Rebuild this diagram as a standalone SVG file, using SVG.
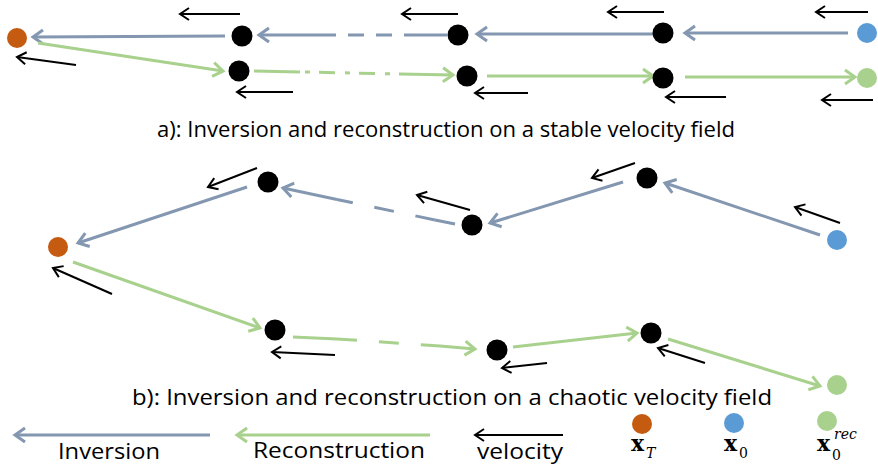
<svg xmlns="http://www.w3.org/2000/svg" width="878" height="466" viewBox="0 0 878 466">
<style>
.inv{stroke:#8497B0;stroke-width:3;fill:none;}
.rec{stroke:#A9D18E;stroke-width:3;fill:none;}
.dash{stroke-dasharray:20 22;}
.vel{stroke:#000;stroke-width:2;fill:none;}
.ai{marker-end:url(#mInv);}
.ar{marker-end:url(#mRec);}
.av{marker-end:url(#mVel);}
.blk{fill:#000;}
.org{fill:#C55A11;}
.blu{fill:#5B9BD5;}
.grn{fill:#A9D18E;}
.cap{font-family:"Open Sans",Lato,"Liberation Sans",sans-serif;font-size:21px;fill:#000;}
.math{font-family:"DejaVu Serif","Liberation Serif",serif;font-weight:bold;font-size:22px;fill:#000;}
.sub{font-family:"DejaVu Serif","Liberation Serif",serif;font-size:14px;fill:#000;}
.it{font-style:italic;}
</style>
<defs>
<marker id="mInv" markerUnits="userSpaceOnUse" viewBox="-14 -10 18 20" refX="0" refY="0" markerWidth="18" markerHeight="20" orient="auto">
<path d="M-10,-7 L0,0 L-10,7" fill="none" stroke="#8497B0" stroke-width="3"/>
</marker>
<marker id="mRec" markerUnits="userSpaceOnUse" viewBox="-14 -10 18 20" refX="0" refY="0" markerWidth="18" markerHeight="20" orient="auto">
<path d="M-10,-7 L0,0 L-10,7" fill="none" stroke="#A9D18E" stroke-width="3"/>
</marker>
<marker id="mVel" markerUnits="userSpaceOnUse" viewBox="-12 -9 15 18" refX="0" refY="0" markerWidth="15" markerHeight="18" orient="auto">
<path d="M-9,-6 L0,0 L-9,6" fill="none" stroke="#000" stroke-width="2"/>
</marker>
</defs>
<rect width="878" height="466" fill="#fff"/>

<g id="connectors">
<!-- a: inversion -->
<line class="inv ai" x1="225" y1="36" x2="33" y2="37"/>
<line class="inv" x1="447" y1="35" x2="420" y2="35"/>
<line class="inv" x1="420" y1="35" x2="320" y2="35" style="stroke-dasharray:16 12"/>
<line class="inv ai" x1="320" y1="35" x2="259" y2="35"/>
<line class="inv ai" x1="653" y1="34" x2="477" y2="34"/>
<line class="inv ai" x1="848" y1="33" x2="685" y2="33"/>
<!-- a: reconstruction -->
<line class="rec ar" x1="38" y1="43" x2="223" y2="71"/>
<line class="rec" x1="254" y1="71" x2="300" y2="72"/>
<line class="rec" x1="305" y1="72" x2="400" y2="74" style="stroke-dasharray:5 9 16 10"/>
<line class="rec ar" x1="400" y1="74" x2="453" y2="75"/>
<line class="rec ar" x1="487" y1="76" x2="653" y2="76"/>
<line class="rec ar" x1="685" y1="77" x2="855" y2="77"/>
<!-- b: inversion -->
<line class="inv ai" x1="247" y1="187" x2="78" y2="243"/>
<line class="inv" x1="455" y1="224" x2="435" y2="220"/>
<line class="inv dash" x1="435" y1="220" x2="337" y2="199.5"/>
<line class="inv ai" x1="337" y1="199.5" x2="283" y2="188"/>
<line class="inv ai" x1="623" y1="182" x2="490" y2="223"/>
<line class="inv ai" x1="820" y1="235" x2="665" y2="183"/>
<!-- b: reconstruction -->
<line class="rec ar" x1="73" y1="262" x2="260" y2="328"/>
<line class="rec" x1="293" y1="337" x2="337" y2="339"/>
<line class="rec dash" x1="337" y1="339" x2="440" y2="346"/>
<line class="rec ar" x1="440" y1="346" x2="475" y2="349"/>
<line class="rec ar" x1="513" y1="347" x2="637" y2="333"/>
<line class="rec ar" x1="668" y1="339" x2="820" y2="386"/>
</g>

<g id="velocity">
<line class="vel av" x1="240" y1="14" x2="180" y2="14"/>
<line class="vel av" x1="76" y1="65" x2="17" y2="57"/>
<line class="vel av" x1="293" y1="92" x2="237" y2="92"/>
<line class="vel av" x1="458" y1="14" x2="402" y2="14"/>
<line class="vel av" x1="528" y1="93" x2="475" y2="93"/>
<line class="vel av" x1="664" y1="12" x2="608" y2="12"/>
<line class="vel av" x1="726" y1="97" x2="666" y2="97"/>
<line class="vel av" x1="868" y1="12" x2="816" y2="12"/>
<line class="vel av" x1="873" y1="100" x2="822" y2="100"/>
<line class="vel av" x1="257" y1="168" x2="208" y2="187"/>
<line class="vel av" x1="470" y1="210" x2="417" y2="195"/>
<line class="vel av" x1="635" y1="163" x2="592" y2="178"/>
<line class="vel av" x1="840" y1="223" x2="795" y2="207"/>
<line class="vel av" x1="112" y1="294" x2="53" y2="268"/>
<line class="vel av" x1="335" y1="355" x2="272" y2="352"/>
<line class="vel av" x1="547" y1="363" x2="502" y2="368"/>
<line class="vel av" x1="705" y1="363" x2="658" y2="348"/>
</g>

<g id="a_xT"><circle class="org" cx="17" cy="38" r="10"/></g>
<g id="a_inv1"><circle class="blk" cx="242" cy="36" r="10.5"/></g>
<g id="a_inv2"><circle class="blk" cx="458" cy="35" r="10.5"/></g>
<g id="a_inv3"><circle class="blk" cx="663" cy="33" r="10.5"/></g>
<g id="a_x0"><circle class="blu" cx="867" cy="33" r="10"/></g>
<g id="a_rec1"><circle class="blk" cx="239" cy="71" r="10.5"/></g>
<g id="a_rec2"><circle class="blk" cx="467" cy="76" r="10.5"/></g>
<g id="a_rec3"><circle class="blk" cx="663" cy="78" r="10.5"/></g>
<g id="a_xrec"><circle class="grn" cx="867" cy="78" r="10"/></g>

<g id="b_xT"><circle class="org" cx="58" cy="247" r="10"/></g>
<g id="b_inv1"><circle class="blk" cx="268" cy="182" r="10.5"/></g>
<g id="b_inv2"><circle class="blk" cx="472" cy="225" r="10.5"/></g>
<g id="b_inv3"><circle class="blk" cx="647" cy="178" r="10.5"/></g>
<g id="b_x0"><circle class="blu" cx="837" cy="240" r="10"/></g>
<g id="b_rec1"><circle class="blk" cx="275" cy="330" r="10.5"/></g>
<g id="b_rec2"><circle class="blk" cx="497" cy="350" r="10.5"/></g>
<g id="b_rec3"><circle class="blk" cx="651" cy="333" r="10.5"/></g>
<g id="b_xrec"><circle class="grn" cx="837" cy="385" r="10"/></g>

<g id="captions">
<text class="cap" x="157" y="137" textLength="578" lengthAdjust="spacingAndGlyphs">a): Inversion and reconstruction on a stable velocity field</text>
<text class="cap" x="132" y="405" textLength="640" lengthAdjust="spacingAndGlyphs">b): Inversion and reconstruction on a chaotic velocity field</text>
</g>

<g id="legend">
<line class="inv ai" x1="210" y1="435" x2="15" y2="435"/>
<text class="cap" x="58" y="459" textLength="102" lengthAdjust="spacingAndGlyphs">Inversion</text>
<line class="rec ar" x1="430" y1="435" x2="237" y2="435"/>
<text class="cap" x="253" y="458" textLength="172" lengthAdjust="spacingAndGlyphs">Reconstruction</text>
<line class="vel av" x1="563" y1="435" x2="475" y2="435"/>
<text class="cap" x="477" y="459" textLength="86" lengthAdjust="spacingAndGlyphs">velocity</text>
<circle class="org" cx="642" cy="424" r="10"/>
<circle class="blu" cx="734" cy="423" r="10"/>
<circle class="grn" cx="827" cy="421" r="10"/>
<text class="math" x="631" y="451">x</text>
<text class="sub it" x="646" y="458">T</text>
<text class="math" x="724" y="451">x</text>
<text class="sub" x="739" y="458">0</text>
<text class="math" x="817" y="451">x</text>
<text class="sub" x="832" y="460">0</text>
<text class="sub it" x="834" y="439">rec</text>
</g>
</svg>
